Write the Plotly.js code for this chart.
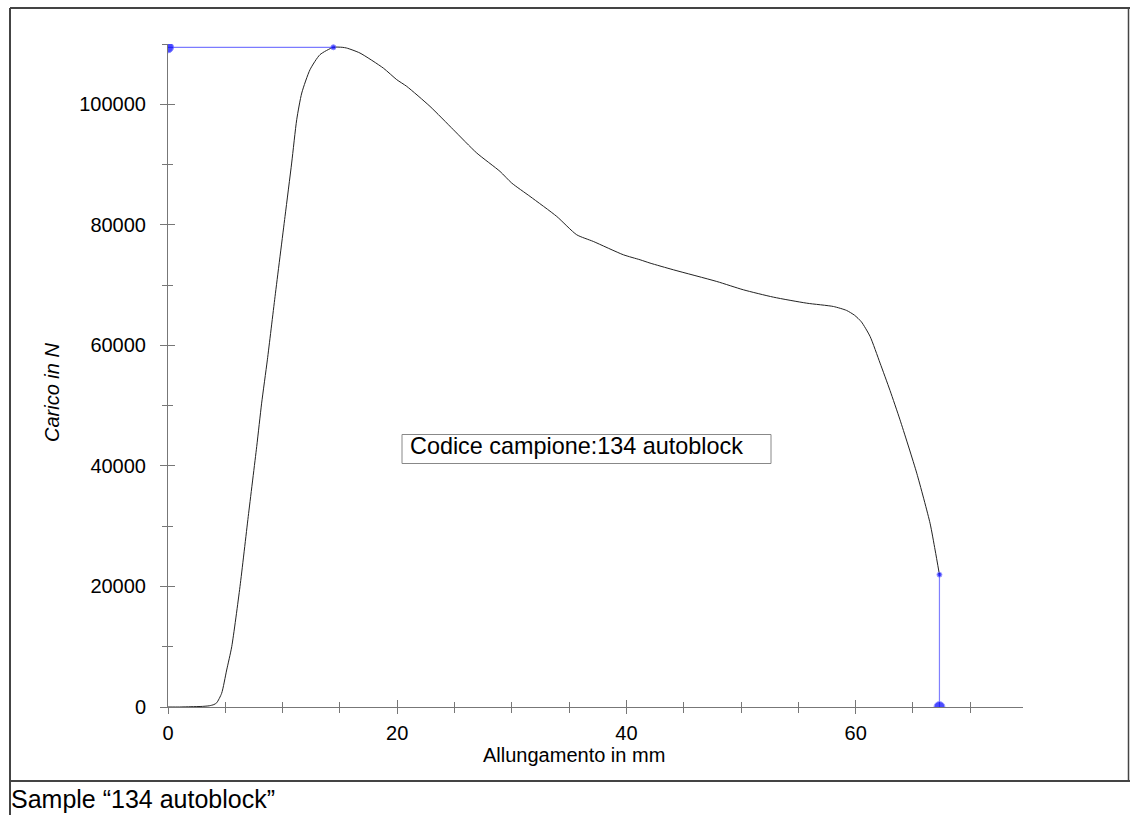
<!DOCTYPE html>
<html>
<head>
<meta charset="utf-8">
<script src="https://cdn.plot.ly/plotly-3.0.1.min.js"></script>
<style>html,body{margin:0;padding:0;background:#fff;}#chart{width:1130px;height:815px;}</style>
</head>
<body>
<div id="chart"></div>
<script>
// Curve: elongation (mm) vs load (N)
const elongation = [0, 1, 2, 3, 3.6, 4.0, 4.25, 4.68, 5.12, 5.56, 6.28, 7.0, 7.74, 8.17, 8.67, 9.34, 10.21, 10.79, 11.23, 11.67, 12.39, 13.26, 14.43, 15.2, 15.59, 16.75, 18.79, 19.96, 20.83, 22.86, 24.9, 26.94, 28.97, 29.99, 31.59, 33.92, 35.66, 37.11, 39.73, 41.19, 42.06, 44.09, 47.88, 50.2, 52.82, 55.73, 58.06, 59.2, 59.9, 60.5, 61.26, 62.13, 63.0, 63.87, 65.33, 66.49, 66.93, 67.31];
const load = [0, 0, 50, 100, 200, 400, 700, 2270, 6140, 10000, 19970, 31590, 43210, 50410, 57600, 68110, 81390, 90250, 97440, 101870, 105740, 108230, 109450, 109450, 109330, 108500, 106000, 104080, 102970, 99650, 95780, 91910, 88860, 86930, 84710, 81390, 78350, 77240, 75030, 74200, 73650, 72540, 70600, 69220, 68000, 67000, 66450, 65800, 65000, 63900, 61470, 57050, 52500, 47640, 38790, 30490, 26060, 21960];
// Markers: maximum load and break point
const maxLine_x = [0, 14.43];
const maxLine_y = [109450, 109450];
const breakLine_x = [67.31, 67.31];
const breakLine_y = [21960, 0];
const xTicks = [0, 20, 40, 60];
const yTicks = [0, 20000, 40000, 60000, 80000, 100000];
const xMinor = [5, 10, 15, 25, 30, 35, 45, 50, 55, 65, 70];
const yMinor = [10000, 30000, 50000, 70000, 90000, 110000];
const sampleCode = 'Codice campione:134 autoblock';
const caption = 'Sample \u201c134 autoblock\u201d';

const FONT = 'Liberation Sans, Arial, Helvetica, sans-serif';
const AX = '#777';

const traces = [
  {x: elongation, y: load, type: 'scatter', mode: 'lines', line: {color: '#222', width: 1, shape: 'spline', smoothing: 0.6}},
  {x: maxLine_x, y: maxLine_y, type: 'scatter', mode: 'lines+markers', cliponaxis: true,
   line: {color: '#5a5aff', width: 1}, marker: {color: '#0000ff', size: [11, 5]}},
  {x: breakLine_x, y: breakLine_y, type: 'scatter', mode: 'lines+markers', cliponaxis: true,
   line: {color: '#8080ff', width: 1.2}, marker: {color: '#0000ff', size: [5, 11]}},
  {x: [], y: [], xaxis: 'x2', yaxis: 'y2', type: 'scatter'}
];

const xr = [0, 74.6], yr = [0, 110000];
const px = v => (v - 168) / 855;   // paper x from pixel
const py = v => (707 - v) / 663;   // paper y from pixel
const layout = {
  width: 1130, height: 815,
  margin: {l: 168, r: 107, t: 44, b: 108},
  paper_bgcolor: '#fff', plot_bgcolor: '#fff',
  showlegend: false,
  font: {family: FONT, color: '#000', size: 20},
  xaxis: {range: xr, showgrid: false, zeroline: false, showline: true, linecolor: AX, linewidth: 1,
    tickmode: 'array', tickvals: xTicks, ticktext: xTicks.map(String), ticks: 'outside', ticklen: 6, tickcolor: AX, tickwidth: 1,
    ticklabelstandoff: 2, tickfont: {size: 20, family: FONT},
    minor: {tickmode: 'array', tickvals: xMinor, ticks: 'outside', ticklen: 5, tickcolor: AX}},
  yaxis: {range: yr, showgrid: false, zeroline: false, showline: true, linecolor: AX, linewidth: 1,
    tickmode: 'array', tickvals: yTicks, ticktext: yTicks.map(String), ticks: 'outside', ticklen: 7, tickcolor: AX, tickwidth: 1,
    ticklabelstandoff: 10, tickfont: {size: 20, family: FONT},
    minor: {tickmode: 'array', tickvals: yMinor, ticks: 'outside', ticklen: 5, tickcolor: AX}},
  xaxis2: {range: xr, overlaying: 'x', anchor: 'y2', showgrid: false, zeroline: false, showline: false, showticklabels: false,
    tickmode: 'array', tickvals: xTicks, ticks: 'inside', ticklen: 7, tickcolor: AX,
    minor: {tickmode: 'array', tickvals: xMinor, ticks: 'inside', ticklen: 5, tickcolor: AX}},
  yaxis2: {range: yr, overlaying: 'y', anchor: 'x2', showgrid: false, zeroline: false, showline: false, showticklabels: false,
    tickmode: 'array', tickvals: yTicks, ticks: 'inside', ticklen: 7, tickcolor: AX,
    minor: {tickmode: 'array', tickvals: yMinor.slice(0, 5), ticks: 'inside', ticklen: 5, tickcolor: AX}},
  shapes: [
    // outer frame
    {type: 'line', xref: 'paper', yref: 'paper', x0: px(10), x1: px(1131), y0: py(8), y1: py(8), line: {color: '#444', width: 2}},
    {type: 'line', xref: 'paper', yref: 'paper', x0: px(10), x1: px(10), y0: py(8), y1: py(816), line: {color: '#444', width: 2}},
    {type: 'line', xref: 'paper', yref: 'paper', x0: px(1128.5), x1: px(1128.5), y0: py(8), y1: py(781), line: {color: '#444', width: 1.5}},
    {type: 'line', xref: 'paper', yref: 'paper', x0: px(10), x1: px(1131), y0: py(781), y1: py(781), line: {color: '#444', width: 2}},
    // sample code box
    {type: 'rect', xref: 'paper', yref: 'paper', x0: px(402), x1: px(771), y0: py(434.5), y1: py(463.5), line: {color: '#888', width: 1}, fillcolor: 'rgba(0,0,0,0)'}
  ],
  annotations: [
    {xref: 'paper', yref: 'paper', x: px(408), y: py(446), xanchor: 'left', yanchor: 'middle', showarrow: false,
     text: sampleCode, font: {size: 23.4, family: FONT, color: '#000'}},
    {xref: 'paper', yref: 'paper', x: px(574), y: py(755), xanchor: 'center', yanchor: 'middle', showarrow: false,
     text: 'Allungamento in mm', font: {size: 20, family: FONT, color: '#000'}},
    {xref: 'paper', yref: 'paper', x: px(52), y: py(393), xanchor: 'center', yanchor: 'middle', showarrow: false, textangle: -90,
     text: '<i>Carico in N</i>', font: {size: 20, family: FONT, color: '#000'}},
    {xref: 'paper', yref: 'paper', x: px(9), y: py(799), xanchor: 'left', yanchor: 'middle', showarrow: false,
     text: caption, font: {size: 25, family: FONT, color: '#000'}}
  ]
};

Plotly.newPlot('chart', traces, layout, {displayModeBar: false, staticPlot: true});
</script>
</body>
</html>
